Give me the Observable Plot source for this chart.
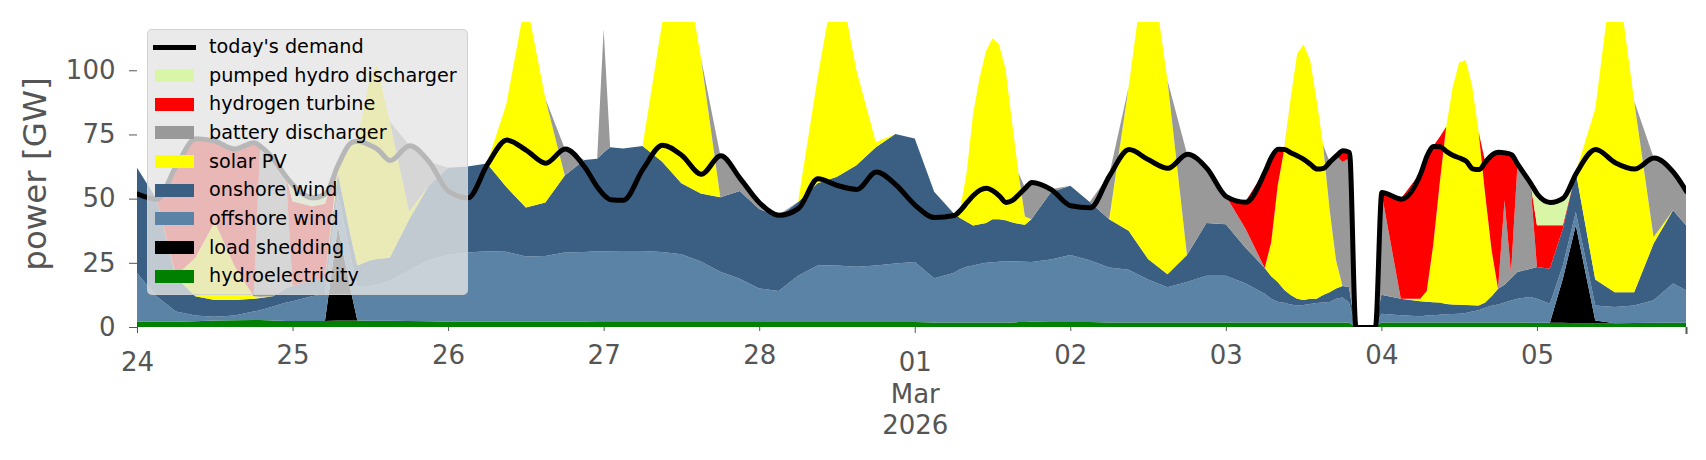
<!DOCTYPE html>
<html>
<head>
<meta charset="utf-8">
<script src="https://cdn.jsdelivr.net/npm/d3@7"></script>
<script src="https://cdn.jsdelivr.net/npm/@observablehq/plot@0.6"></script>
<style>
html,body{margin:0;padding:0;background:#fff;}
#chart{position:relative;width:1706px;height:460px;font-family:"DejaVu Sans",sans-serif;}
#ylabel{position:absolute;left:35px;top:174px;transform:translate(-50%,-50%) rotate(-90deg);font-size:32.5px;color:#555;white-space:nowrap;}
#legend{position:absolute;left:147px;top:29px;width:321px;height:266px;box-sizing:border-box;background:rgba(229,229,229,0.8);border:1px solid rgba(204,204,204,0.8);border-radius:5px;}
.lrow{position:absolute;left:0;width:100%;height:28px;}
.lpatch{position:absolute;left:7px;width:39px;height:13px;top:7.5px;}
.lline{position:absolute;left:5px;width:43px;height:5px;top:11.5px;background:#000;}
.ltext{position:absolute;left:61px;top:0;line-height:28px;font-size:19.2px;color:#000;white-space:nowrap;}
</style>
</head>
<body>
<div id="chart"><div id="ylabel">power [GW]</div><div id="legend"></div></div>
<script>
// hours since 2026-02-24 00:00 (UTC)
const hours = [0,3,6,9,12,15,18,19,21,23,24,27,29,31,33,34,36,37,39,42,45,48,51,54,57,60,63,66,69,71,72,73,75,78,81,84,87,90,93,96,99,102,105,108,111,114,117,120,123,
  126,127,128,129,130,131,132,133,134,135,136,137,138,
  141,144,147,150,153,156,159,162,165,168,171,174,
  175,176,177,178,179,180,181,182,183,184,185,186,187,
  188,191,192,195,198,
  199,200,201,202,203,204,205,206,207,208,209,
  210,211,212,213,215,216,218,220,222,225,228,231,234,237,239];

const hydro = [2,2,2,2.2,2.5,2.6,2.7,2.7,2.5,2.3,2.3,2.3,2.3,2.5,2.5,2.5,2.4,2.4,2.4,2.3,2.2,2,2,2,2,2,2,2,2,1.9,1.9,1.9,1.9,1.9,1.9,1.9,1.9,1.9,1.9,1.9,1.9,1.9,1.9,1.9,1.9,1.9,1.9,1.9,1.8,
  1.8,1.8,1.8,1.8,1.8,1.8,1.8,1.8,1.8,1.8,1.9,1.9,2,
  1.9,1.9,1.9,1.8,1.8,1.8,1.8,1.8,1.8,1.8,1.8,1.8,
  1.8,1.8,1.8,1.8,1.8,1.8,1.8,1.8,1.8,1.8,1.8,1.8,1.8,
  0,0,1.8,1.8,1.8,
  1.8,1.8,1.8,1.8,1.8,1.8,1.8,1.8,1.8,1.8,1.8,
  1.8,1.8,1.8,1.8,1.7,1.7,1.7,1.7,1.5,1.5,1.5,1.6,1.7,1.7,1.7];
const loadShedding = [0,0,0,0,0,0,0,0,0,0,0,0,0,36.5,11.5,0,0,0,0,0,0,0,0,0,0,0,0,0,0,0,0,0,0,0,0,0,0,0,0,0,0,0,0,0,0,0,0,0,0,
  0,0,0,0,0,0,0,0,0,0,0,0,0,
  0,0,0,0,0,0,0,0,0,0,0,0,
  0,0,0,0,0,0,0,0,0,0,0,0,0,
  0,0,0,0,0,
  0,0,0,0,0,0,0,0,0,0,0,
  0,0,0,0,0,0,0,17.1,38.1,1,0,0,0,0,0];
const offshore = [19,10,4,2.3,1.5,1.9,3.3,3.8,5.5,7.2,7.7,9.7,10.7,13,13,13.5,13.6,14.1,15.6,19.7,23.8,26,27,27.5,27.3,25.5,25.7,27,27.2,27.6,27.6,27.6,27.7,27.7,27.3,26.4,23.6,19.6,16.9,13.1,12.1,18.1,22.1,22.1,21.6,22.1,22.8,23.4,17.2,
  19.2,20.7,21.7,22.2,22.7,23.2,23.4,23.6,23.8,23.8,23.6,23.5,23.3,
  24.4,26.1,24.1,21.4,20.5,16.7,13.7,15.7,18.2,18.2,15.2,11.2,
  9.2,8,7.6,7,6.6,6.8,7.2,7.5,7.7,7.9,9.2,9.7,7.7,
  0,0,3.4,2.8,2.4,
  2.7,2.8,3,3.2,3.3,3.4,3.7,4.2,4.7,5.7,6.5,
  7,7.7,8.5,9.2,10,9.3,7.4,5.2,5.2,5.9,6.3,6.8,8.7,15.2,12.6];
const onshore = [41,38,13.5,7.5,6.5,6,5,4.8,4,5.5,6,6,6,8,8,8,10,10,9,20,29,34,33.5,34.2,25.2,19,20.8,30,35.8,36,38.5,40.5,39.9,40.9,35.3,27.7,26.5,29,34.2,31,28.8,28.7,32,34.5,39.5,46,50.5,48.1,33.7,
  23.3,20,17.5,15.5,15.5,15.5,16.8,16.6,16,15.2,14.7,14.4,16.7,
  26.2,27,22.7,18.8,15.2,8,5,10.5,20.5,20,14,10,
  8.8,7.7,5.1,3.7,2.6,1.9,2,1.7,3,3.8,4,4.5,6.1,
  0,0,7.4,6.4,5.8,
  5.3,5,4.7,4,3.7,3.5,3.1,2.5,1.9,2,3.7,
  6.1,7,8.7,10.4,11,12.4,13.6,14.3,15.6,10.1,5.7,5.1,22.1,28.6,25.3];
const solar = [0,0,0.5,15,30.5,13.5,1,0.5,0,0,0,0,0,3.5,37,49,72,75.5,53,3,0,0,0,0,32.5,81.5,40.5,0,0,0,0,0,0,0,53.5,94,53,0,0,0,0,0,41,81.5,37,2,0,0,0,
  0,3.5,19,43.5,57,67,70.5,68,59,39.2,19.8,3.2,0,
  0,0,0,0,56,123.5,75.5,0,0,0,0,0,
  13.2,37.5,54.5,76.5,95.5,99.5,93,77.5,58.5,32.5,11,0,0,
  0,0,0,0,1,
  4.2,22.4,46.5,69,84.7,94.3,95.4,85.5,67.6,42.5,18,
  0,0,0,0,0,0,0,0,0,66.5,131.5,74.5,2.5,0,0];
const battery = [0,0,0,0,0,0,0,58.7,53.5,43.5,0,0,0,0,0,0,0,0,0,25.8,9.5,0,0,0,0,0,0,10.5,0,0,48,0,0,0,0,0,0,16.4,5,2.5,0.9,0,0,0,0,0,0,0,0,
  0,0,0,0,0,0,0,0,0,0,0,11.3,14.5,
  1.2,0,0,17.2,0,0,0,39.5,21.5,11,7.5,0,
  0,0,0,0,0,0,0,0,0,18.5,40.9,48.3,50,
  0,0,40,0,0,
  0,0,0,0,0,0,0,0,0,0,0,
  0,32.9,2,42,33.3,0,0,0,0,0,0,0,31,14.9,13.4];
const hydrogen = [0,0,43,46.5,31.5,45.5,60,0,0,0,33,29,29,0,0,0,0,0,0,0,0,0,0,0,0,0,0,0,0,0,0,0,0,0,0,0,0,0,0,0,0,0,0,0,0,0,0,0,0,
  0,0,0,0,0,0,0,0,0,0,0,0,0,
  0,0,0,0,0,0,0,0,0,0,10.3,37.8,
  33.5,14.4,0.3,0,0,0,0,0,0,0,0,4.5,2.6,
  0,0,0,39,49,
  53,38.5,18,0,0,0,0,0,0,12.5,37.2,
  53.4,18.6,46.3,0,0,16.2,16.9,1.3,0,0,0,0,0,0,0];
const pumpedHydro = [0,0,0,0,0,0,0,0,0,0,6.5,3.5,4,0,0,0,0,0,0,0,0,0,0,0,0,0,0,0,0,0,0,0,0,0,0,0,0,0,0,0,0,0,0,0,0,0,0,0,0,
  0,0,0,0,0,0,0,0,0,0,0,0,0,
  0,0,0,0,0,0,0,0,0,0,0,0,
  0,0,0,0,0,0,0,0,0,0,0,0,0,
  0,0,0,0,0,
  0,0,0,0,0,0,0,0,0,0,0,
  0,0,0,0,0,12.3,9.1,10.8,0,0,0,0,0,0,0];
const demand = [52,50,63,73.5,72.5,69.5,72,70.5,65.5,58.5,55.5,50.5,52,63.5,72,72.5,70.8,69.5,65,70.8,64.5,53,50.5,63.5,73,69,64,69.5,62.5,54.5,51.5,49.8,49.6,61.7,71,67,59.7,66.9,58,48.5,43.7,46.4,57.9,55.3,53.8,60.6,55.6,47.6,42.8,
  43.6,45.7,48.7,51.5,53.5,54.2,53.2,51.2,48.7,49.5,51.8,54.3,56.5,
  53.7,47.4,46.6,59.2,69.3,65.3,62,67.5,62,51,48.8,60.8,
  66.5,69.4,69.3,68,66.8,65.4,63.5,61.7,62,64.5,66.9,68.8,68.2,
  0,0,52.6,50,60,
  67,70.5,70.4,68.5,67,66,64.8,61.8,61.5,64.5,67.2,
  68.3,68,67.3,63.4,56,51.9,48.7,50.4,60.1,69.3,64.2,61.7,66,60.4,53];

// stack order, bottom to top
const seriesNames = ["hydroelectricity","load shedding","offshore wind","onshore wind","solar PV","battery discharger","hydrogen turbine","pumped hydro discharger"];
const seriesColors = ["#008000","#000000","#5b83a6","#3b5f82","#ffff00","#999999","#ff0000","#d9f5a6"];
const seriesValues = [hydro, loadShedding, offshore, onshore, solar, battery, hydrogen, pumpedHydro];
const demandLabel = "today's demand";

const yTicks = [0,25,50,75,100];
const majorTickDays = [[2026,2,24,"24"],[2026,3,1,"01\nMar\n2026"]];
const minorTickDays = [[2026,2,25],[2026,2,26],[2026,2,27],[2026,2,28],[2026,3,2],[2026,3,3],[2026,3,4],[2026,3,5]];

const T0 = Date.UTC(2026,1,24);
const toDate = h => new Date(T0 + h*3600000);

const rows = [];
seriesNames.forEach((name, k) => {
  hours.forEach((h, i) => rows.push({t: toDate(h), v: seriesValues[k][i] ?? 0, name}));
});
const demandRows = hours.map((h, i) => ({t: toDate(h), d: demand[i]}));

const majorDates = majorTickDays.map(([y,m,d]) => new Date(Date.UTC(y,m-1,d)));
const majorLabels = new Map(majorTickDays.map(([y,m,d,l]) => [Date.UTC(y,m-1,d), l]));
const minorDates = minorTickDays.map(([y,m,d]) => new Date(Date.UTC(y,m-1,d)));
const endDate = toDate(hours[hours.length-1]);

const chart = Plot.plot({
  width: 1706,
  height: 460,
  marginLeft: 137,
  marginRight: 20,
  marginTop: 22,
  marginBottom: 133,
  style: {fontFamily: "DejaVu Sans", background: "white", overflow: "visible"},
  x: {type: "utc", domain: [toDate(0), endDate]},
  y: {domain: [0, 118.8]},
  color: {domain: seriesNames, range: seriesColors},
  marks: [
    Plot.areaY(rows, {x: "t", y: "v", z: "name", fill: "name", order: seriesNames, curve: "linear", clip: true}),
    Plot.lineY(demandRows, {x: "t", y: "d", stroke: "#000", strokeWidth: 5, strokeLinejoin: "round", curve: "monotone-x", clip: true}),
    Plot.axisY(yTicks, {tickSize: 8, tickPadding: 14, fontSize: 26, color: "#555", label: null}),
    Plot.axisX(minorDates, {tickSize: 4, tickPadding: 14, fontSize: 26, color: "#555", label: null, tickFormat: d3.utcFormat("%d")}),
    Plot.axisX(majorDates, {tickSize: 6, tickPadding: 15, fontSize: 26, color: "#555", label: null, lineHeight: 1.22, tickFormat: d => majorLabels.get(+d)}),
    Plot.axisX([endDate], {tickSize: 7, tickPadding: 15, color: "#555", strokeWidth: 2, label: null, tickFormat: () => ""})
  ]
});
const host = document.getElementById("chart");
host.insertBefore(chart, host.firstChild);

// legend (drawn over the plot, top left)
const legend = document.getElementById("legend");
const entries = [{name: demandLabel, line: true}];
for (let k = seriesNames.length - 1; k >= 0; k--) entries.push({name: seriesNames[k], color: seriesColors[k]});
entries.forEach((e, i) => {
  const row = document.createElement("div");
  row.className = "lrow";
  row.style.top = (3 + i * 28.65) + "px";
  const sw = document.createElement("div");
  if (e.line) sw.className = "lline"; else { sw.className = "lpatch"; sw.style.background = e.color; }
  const tx = document.createElement("div");
  tx.className = "ltext";
  tx.textContent = e.name;
  row.appendChild(sw); row.appendChild(tx);
  legend.appendChild(row);
});
</script>
</body>
</html>
